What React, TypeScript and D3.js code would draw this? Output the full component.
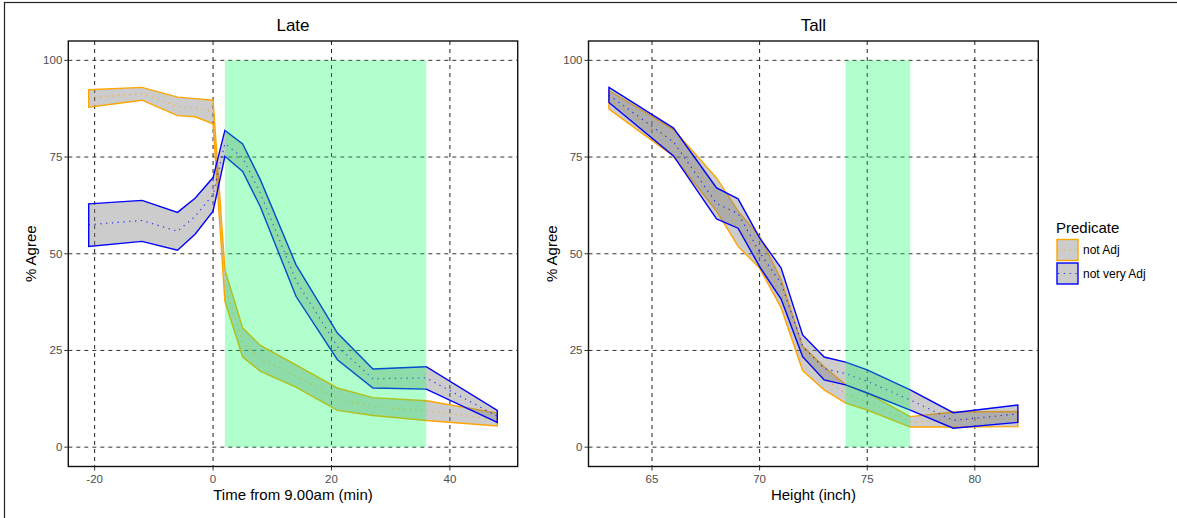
import React from "react";
import * as d3 from "d3";

// ---------- data ----------
const lateX = [-21, -12, -6, -3, 0, 2, 5, 8, 14, 21, 27, 36, 48];
const lateNotAdjLo = [87.9, 89.7, 85.7, 85.4, 83.6, 37.7, 23.3, 19.6, 15.5, 9.5, 8.2, 6.9, 5.5];
const lateNotAdjHi = [92.4, 93.0, 90.5, 90.1, 89.7, 45.9, 30.8, 26.3, 21.3, 15.3, 12.8, 12.0, 8.8];
const lateNotAdjMean = [90.3, 91.4, 88.1, 87.7, 86.8, 41.8, 27.0, 23.0, 18.4, 12.4, 10.5, 9.4, 7.1];
const lateNotVeryLo = [51.9, 53.2, 50.9, 55.1, 61.0, 75.2, 71.3, 62.1, 39.0, 22.6, 15.3, 15.0, 6.4];
const lateNotVeryHi = [62.9, 63.8, 60.7, 64.4, 69.7, 81.9, 78.4, 69.1, 47.2, 29.5, 20.2, 20.8, 9.5];
const lateNotVeryMean = [57.5, 58.6, 55.8, 59.7, 65.3, 78.5, 74.8, 65.6, 43.1, 26.0, 17.7, 17.9, 8.0];

const tallX = [63, 66, 68, 69, 70, 71, 72, 73, 74, 75, 77, 79, 82];
const tallNotAdjLo = [87.4, 75.2, 61.0, 51.9, 46.3, 36.0, 19.8, 14.8, 11.4, 9.6, 5.2, 5.2, 5.3];
const tallNotAdjHi = [92.2, 82.1, 69.6, 61.0, 54.5, 43.3, 26.0, 20.8, 16.1, 14.0, 7.9, 9.1, 9.2];
const tallNotAdjMean = [89.8, 78.6, 65.3, 56.5, 50.4, 39.6, 23.0, 17.8, 13.7, 11.8, 6.5, 7.1, 7.2];
const tallNotVeryLo = [89.1, 75.3, 59.0, 56.6, 46.7, 38.3, 23.4, 17.4, 16.1, 14.0, 9.6, 4.9, 6.4];
const tallNotVeryHi = [93.0, 82.5, 67.0, 64.2, 54.1, 46.3, 29.0, 23.3, 22.0, 20.0, 14.8, 8.9, 10.9];
const tallNotVeryMean = [91.0, 78.9, 63.0, 60.4, 50.4, 42.3, 26.2, 20.3, 19.0, 17.0, 12.2, 6.9, 8.6];

const lateShade = [2, 36];
const tallShade = [74, 77];
const yTicks = [0, 25, 50, 75, 100];
const lateTicks = [-20, 0, 20, 40];
const tallTicks = [65, 70, 75, 80];
const seriesNames = ["not Adj", "not very Adj"];
const seriesColors = ["#FFA500", "#0000FF"];

const FONT = "'Liberation Sans', Arial, Helvetica, sans-serif";

type Series = { lo: number[]; hi: number[]; mean: number[] };

function Panel(props: {
  left: number; right: number; top: number; bottom: number;
  xDomain: [number, number]; xs: number[]; series: Series[];
  shade: number[]; xTicks: number[]; title: string; xTitle: string;
}) {
  const { left, right, top, bottom, xDomain, xs, series, shade, xTicks, title, xTitle } = props;
  const x = d3.scaleLinear().domain(xDomain).range([left, right]);
  const y = d3.scaleLinear().domain([-5, 105]).range([bottom, top]);
  const cx = (left + right) / 2;
  return (
    <g>
      <rect x={left} y={top} width={right - left} height={bottom - top} fill="#fff" />
      {yTicks.map((t) => (
        <line key={"hy" + t} x1={left} x2={right} y1={y(t)} y2={y(t)} stroke="#333" strokeWidth={1} strokeDasharray="4,4" />
      ))}
      {xTicks.map((t) => (
        <line key={"vx" + t} x1={x(t)} x2={x(t)} y1={top} y2={bottom} stroke="#222" strokeWidth={1} strokeDasharray="4,4" />
      ))}
      {series.map((s, k) => {
        const pts: [number, number][] = [
          ...xs.map((v, i) => [x(v), y(s.hi[i])] as [number, number]),
          ...xs.map((v, i) => [x(v), y(s.lo[i])] as [number, number]).reverse(),
        ];
        const poly = d3.line()(pts) + "Z";
        const meanPath = d3.line<number>().x((_, i) => x(xs[i])).y((v) => y(v))(s.mean) || "";
        return (
          <g key={"s" + k}>
            <path d={poly} fill="rgb(127,127,127)" fillOpacity={0.4} stroke={seriesColors[k]} strokeWidth={1.4} strokeLinejoin="miter" />
            <path d={meanPath} fill="none" stroke={seriesColors[k]} strokeWidth={1.2} strokeDasharray="1.3,4.5" strokeOpacity={0.75} />
          </g>
        );
      })}
      <rect x={x(shade[0])} y={y(100)} width={x(shade[1]) - x(shade[0])} height={y(0) - y(100)} fill="rgb(0,255,90)" fillOpacity={0.31} />
      <rect x={left} y={top} width={right - left} height={bottom - top} fill="none" stroke="#111" strokeWidth={1.4} />
      {yTicks.map((t) => (
        <g key={"yt" + t}>
          <line x1={left - 4} x2={left} y1={y(t)} y2={y(t)} stroke="#333" strokeWidth={1} />
          <text x={left - 6} y={y(t) + 4} textAnchor="end" fontSize={11.5} fill="#4d4d4d" fontFamily={FONT}>{t}</text>
        </g>
      ))}
      {xTicks.map((t) => (
        <g key={"xt" + t}>
          <line x1={x(t)} x2={x(t)} y1={bottom} y2={bottom + 4} stroke="#333" strokeWidth={1} />
          <text x={x(t)} y={bottom + 16.5} textAnchor="middle" fontSize={11.5} fill="#4d4d4d" fontFamily={FONT}>{t}</text>
        </g>
      ))}
      <text x={cx} y={top - 10} textAnchor="middle" fontSize={17} fill="#000" fontFamily={FONT}>{title}</text>
      <text x={cx} y={bottom + 33.5} textAnchor="middle" fontSize={15} fill="#000" fontFamily={FONT}>{xTitle}</text>
      <text transform={`translate(${left - 32},${(top + bottom) / 2}) rotate(-90)`} textAnchor="middle" fontSize={15} fill="#000" fontFamily={FONT}>% Agree</text>
    </g>
  );
}

export default function App() {
  const top = 41;
  const bottom = 466.5;
  const lateSeries: Series[] = [
    { lo: lateNotAdjLo, hi: lateNotAdjHi, mean: lateNotAdjMean },
    { lo: lateNotVeryLo, hi: lateNotVeryHi, mean: lateNotVeryMean },
  ];
  const tallSeries: Series[] = [
    { lo: tallNotAdjLo, hi: tallNotAdjHi, mean: tallNotAdjMean },
    { lo: tallNotVeryLo, hi: tallNotVeryHi, mean: tallNotVeryMean },
  ];
  const padL = (d3.max(lateX)! - d3.min(lateX)!) * 0.05;
  const padT = (d3.max(tallX)! - d3.min(tallX)!) * 0.05;
  return (
    <svg width={1177} height={518} style={{ position: "absolute", left: 0, top: 0 }}>
      <rect x={0} y={0} width={1177} height={518} fill="#fff" />
      <rect x={4.5} y={2.5} width={1300} height={1000} fill="none" stroke="#222" strokeWidth={1.2} />
      <Panel left={68.3} right={517.7} top={top} bottom={bottom}
        xDomain={[d3.min(lateX)! - padL, d3.max(lateX)! + padL]} xs={lateX} series={lateSeries}
        shade={lateShade} xTicks={lateTicks} title="Late" xTitle="Time from 9.00am (min)" />
      <Panel left={588.5} right={1038.3} top={top} bottom={bottom}
        xDomain={[d3.min(tallX)! - padT, d3.max(tallX)! + padT]} xs={tallX} series={tallSeries}
        shade={tallShade} xTicks={tallTicks} title="Tall" xTitle="Height (inch)" />
      <g>
        <text x={1056} y={232.5} fontSize={15} fill="#000" fontFamily={FONT}>Predicate</text>
        {seriesNames.map((n, i) => {
          const ky = 239.5 + i * 23.5;
          return (
            <g key={n}>
              <rect x={1057} y={ky} width={21} height={21} fill="rgb(127,127,127)" fillOpacity={0.4} stroke={seriesColors[i]} strokeWidth={1.4} />
              <line x1={1058} x2={1077} y1={ky + 10.5} y2={ky + 10.5} stroke={seriesColors[i]} strokeWidth={1.2} strokeDasharray="1.3,4.5" strokeOpacity={0.75} />
              <text x={1083} y={ky + 14.5} fontSize={12} fill="#000" fontFamily={FONT}>{n}</text>
            </g>
          );
        })}
      </g>
    </svg>
  );
}
